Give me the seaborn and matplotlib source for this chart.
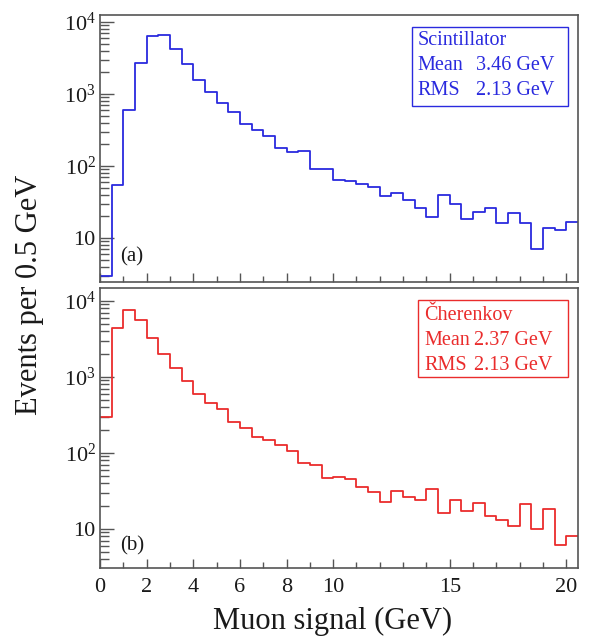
import numpy as np
import pandas as pd
import matplotlib
matplotlib.use("Agg")
import matplotlib.pyplot as plt
import matplotlib.ticker as mticker
from matplotlib.patches import Rectangle
import seaborn as sns

# ---------------- data ----------------
bin_edges = [0.0, 0.5, 1.0, 1.5, 2.0, 2.5, 3.0, 3.5, 4.0, 4.5, 5.0, 5.5, 6.0, 6.5,
             7.0, 7.5, 8.0, 8.5, 9.0, 9.5, 10.0, 10.5, 11.0, 11.5, 12.0, 12.5,
             13.0, 13.5, 14.0, 14.5, 15.0, 15.5, 16.0, 16.5, 17.0, 17.5, 18.0,
             18.5, 19.0, 19.5, 20.0, 20.5]
scint_counts = [3, 55, 600, 2680, 6300, 6500, 4250, 2620, 1570, 1055,
                748, 555, 381, 315, 257, 180, 157, 162, 92, 90,
                64, 61, 57, 51, 38, 42, 34, 25.7, 19.6, 39.8,
                29.8, 18.1, 22.8, 25.7, 16.2, 21.9, 16.2, 7.0, 13.8, 12.9,
                16.9]
cher_counts = [300, 4390, 7690, 5690, 3270, 2020, 1313, 877, 593, 448,
               381, 257, 215, 164, 148, 127, 107, 73, 70, 47.5,
               48.7, 46, 36, 31, 22.9, 31.9, 26.1, 24.1, 33.3, 16.4,
               24.1, 17.3, 22.2, 14.9, 13.2, 11.0, 21.1, 9.9, 18.2, 6.1,
               8.1]
x_tick_values = [0, 2, 4, 6, 8, 10, 15, 20]
y_tick_values = [10, 100, 1000, 10000]
y_tick_labels = ["10", "$10^{2}$", "$10^{3}$", "$10^{4}$"]
scint_box = ["Scintillator", ("Mean", "3.46 GeV"), ("RMS", "2.13 GeV")]
cher_box = ["\u010cherenkov", ("Mean", "2.37 GeV"), ("RMS", "2.13 GeV")]

# ---------------- style ----------------
sns.set_style("ticks")
plt.rcParams["font.family"] = ["Liberation Serif", "DejaVu Serif"]
plt.rcParams["mathtext.fontset"] = "custom"
plt.rcParams["mathtext.rm"] = "Liberation Serif"
plt.rcParams["mathtext.it"] = "Liberation Serif:italic"
plt.rcParams["mathtext.bf"] = "Liberation Serif:bold"

W, H = 589, 639
fig = plt.figure(figsize=(W / 100, H / 100), dpi=100)

def px_axes(left, top, right, bottom):
    return fig.add_axes([left / W, 1 - bottom / H, (right - left) / W, (bottom - top) / H])

ax_a = px_axes(100, 15, 578, 282)
ax_b = px_axes(100, 288, 578, 568)

blue = "#2a2ade"
red = "#ea2c2c"
frame = "#555555"
textc = "#1a1a1a"

edges_arr = np.asarray(bin_edges)
centers = 0.5 * (edges_arr[:-1] + edges_arr[1:])
df_a = pd.DataFrame({"signal": centers, "counts": scint_counts})
df_b = pd.DataFrame({"signal": centers, "counts": cher_counts})

sns.histplot(data=df_a, x="signal", weights="counts", bins=list(bin_edges),
             element="step", fill=False, color=blue, linewidth=1.3, ax=ax_a)
sns.histplot(data=df_b, x="signal", weights="counts", bins=list(bin_edges),
             element="step", fill=False, color=red, linewidth=1.3, ax=ax_b)

minor_y = [m * 10.0 ** k for k in range(0, 5) for m in range(2, 10)]

for ax, ylim in ((ax_a, (2.45, 12500)), (ax_b, (3.07, 14800))):
    ax.set_yscale("log")
    ax.set_ylim(*ylim)
    ax.set_xlim(0, 20.5)
    ax.set_xlabel("")
    ax.set_ylabel("")
    for s in ax.spines.values():
        s.set_color(frame)
        s.set_linewidth(1.2)
        s.set_visible(True)
    ax.yaxis.set_major_locator(mticker.FixedLocator(y_tick_values))
    ax.yaxis.set_major_formatter(mticker.FixedFormatter(y_tick_labels))
    ax.yaxis.set_minor_locator(mticker.FixedLocator(minor_y))
    ax.yaxis.set_minor_formatter(mticker.NullFormatter())
    ax.xaxis.set_major_locator(mticker.FixedLocator(x_tick_values))
    ax.xaxis.set_minor_locator(mticker.MultipleLocator(1))
    ax.xaxis.set_minor_formatter(mticker.NullFormatter())
    ax.tick_params(axis="both", which="both", direction="in", color=frame,
                   top=False, right=False, width=1.0, labelcolor=textc)
    ax.tick_params(axis="y", which="major", length=10, pad=3, labelsize=16)
    ax.tick_params(axis="y", which="minor", length=6.5, width=1.0, left=True)
    ax.tick_params(axis="x", which="major", length=6.5, pad=7, labelsize=16)
    ax.tick_params(axis="x", which="minor", length=4, width=1.0, bottom=True)

ax_a.tick_params(axis="x", which="both", labelbottom=False)

def stat_box(ax, lines, color, box, xl, xv, ys):
    x0, y0, x1, y1 = box
    ax.add_patch(Rectangle((x0, y0), x1 - x0, y1 - y0, transform=ax.transAxes,
                           fill=False, edgecolor=color, linewidth=1.0, zorder=5))
    ax.text(xl, ys[0], lines[0], transform=ax.transAxes, color=color,
            fontsize=14.5, va="center", ha="left")
    for (lab, val), y in zip(lines[1:], ys[1:]):
        ax.text(xl, y, lab, transform=ax.transAxes, color=color,
                fontsize=14.5, va="center", ha="left")
        ax.text(xv, y, val, transform=ax.transAxes, color=color,
                fontsize=14.5, va="center", ha="left")

stat_box(ax_a, scint_box, blue, (0.652, 0.659, 0.980, 0.956), 0.664, 0.786,
         (0.904, 0.811, 0.717))
stat_box(ax_b, cher_box, red, (0.666, 0.683, 0.980, 0.957), 0.678, 0.783,
         (0.902, 0.812, 0.723))

ax_a.text(0.042, 0.094, "(a)", transform=ax_a.transAxes, fontsize=15,
          va="center", ha="left", color=textc)
ax_b.text(0.042, 0.079, "(b)", transform=ax_b.transAxes, fontsize=15,
          va="center", ha="left", color=textc)

fig.text(30 / W, 1 - 295 / H, "Events per 0.5 GeV", rotation=90,
         fontsize=22, ha="center", va="center", color=textc)
fig.text(333 / W, 1 - 621 / H, "Muon signal (GeV)",
         fontsize=22, ha="center", va="center", color=textc)

fig.savefig("out.png", dpi=100)
